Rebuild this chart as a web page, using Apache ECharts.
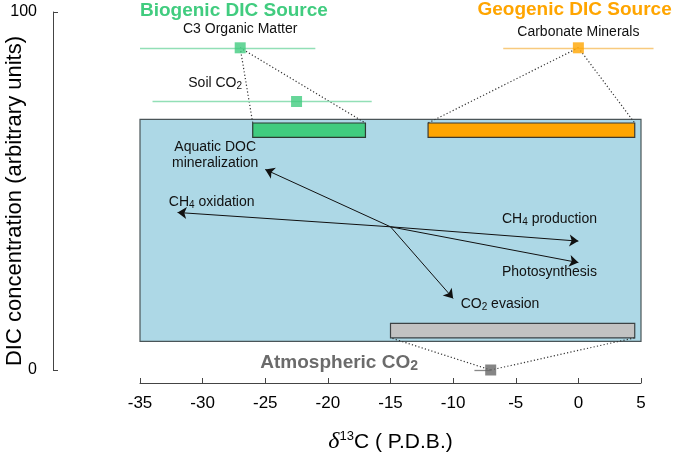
<!DOCTYPE html>
<html><head><meta charset="utf-8">
<script src="https://cdn.jsdelivr.net/npm/echarts@6/dist/echarts.min.js"></script>
<style>html,body{margin:0;padding:0;background:#fff}#c{width:675px;height:453px}</style>
</head><body><div id="c"></div>
<script>
// ---- axes ----
const xMin = -35, xMax = 5, xStep = 5;
const yMin = 0, yMax = 100, yStep = 100;

// ---- boxes: [xmin, xmax, ymin, ymax] ----
const poolBox = [-35, 5, 8, 70];
const biogenicBar = [-26, -17, 65, 69];
const geogenicBar = [-12, 4.5, 65, 69];
const atmosphericBar = [-15, 4.5, 9, 13];

// ---- sources: mean value, level, range ----
const sourceNames = ['C3 Organic Matter', 'Soil CO2', 'Carbonate Minerals', 'Atmospheric CO2'];
const sourceMeans = [-27, -22.5, 0, -7];
const sourceLevels = [90, 75, 90, 0];
const sourceRangeMin = [-35, -34, -6, -8.3];
const sourceRangeMax = [-21, -16.5, 6, -7];

// ---- processes (arrows from a common origin) ----
const arrowOrigin = [-15, 40];
const processNames = ['Aquatic DOC mineralization', 'CH4 oxidation', 'CH4 production', 'Photosynthesis', 'CO2 evasion'];
const processEndX = [-25, -32, 0, 0, -10];
const processEndY = [56, 44, 36, 30, 20];

// ---- annotation texts and their anchors (data coords) ----
const labelTexts = [
  'Biogenic DIC Source', 'C3 Organic Matter', 'Soil CO{sub|2}',
  'Geogenic DIC Source', 'Carbonate Minerals',
  'Aquatic DOC\nmineralization', 'CH{sub|4} oxidation', 'CH{sub|4} production',
  'Photosynthesis', 'CO{sub|2} evasion', 'Atmospheric CO{bsub|2}'
];
const labelX = [-27.5, -27.0, -29.0, -0.3, 0, -29.0, -32.7, -6.1, -6.1, -9.4, -19.1];
const labelY = [100.3, 95.3, 80.2, 100.5, 94.4, 60.0, 46.9, 42.2, 27.4, 18.4, 2.0];
</script>
<script>
const FONT = '"Liberation Sans", Arial, Helvetica, sans-serif';
const GREEN = '#41cc7f', GREEN_L = '#92dfb6', ORANGE = '#ffa500', ORANGE_L = '#f8ca7e', GRAYSQ = '#666666';

function rectSeries(box, fill, stroke, z) {
  return {
    type: 'custom', z: z, silent: true, clip: false,
    data: [box],
    encode: { x: [0, 1], y: [2, 3] },
    renderItem: function (p, api) {
      const a = api.coord([api.value(0), api.value(3)]);
      const b = api.coord([api.value(1), api.value(2)]);
      return { type: 'rect', shape: { x: a[0], y: a[1], width: b[0] - a[0], height: b[1] - a[1] },
        style: { fill: fill, stroke: stroke, lineWidth: 1.2 } };
    }
  };
}

const sqColors = [GREEN, GREEN, ORANGE, GRAYSQ];
const rangeColors = [GREEN_L, GREEN_L, ORANGE_L, '#888888'];

const rangeData = sourceNames.map((n, i) => ({
  coords: [[sourceRangeMin[i], sourceLevels[i]], [sourceRangeMax[i], sourceLevels[i]]],
  lineStyle: { color: rangeColors[i] }
}));
const squareData = sourceNames.map((n, i) => ({
  value: [sourceMeans[i], sourceLevels[i]], itemStyle: { color: sqColors[i] }
}));

const connData = [
  [[sourceMeans[0], sourceLevels[0]], [biogenicBar[0], biogenicBar[3]]],
  [[sourceMeans[0], sourceLevels[0]], [biogenicBar[1], biogenicBar[3]]],
  [[sourceMeans[2], sourceLevels[2]], [geogenicBar[0], geogenicBar[3]]],
  [[sourceMeans[2], sourceLevels[2]], [geogenicBar[1], geogenicBar[3]]],
  [[sourceMeans[3], sourceLevels[3]], [atmosphericBar[0], atmosphericBar[2]]],
  [[sourceMeans[3], sourceLevels[3]], [atmosphericBar[1], atmosphericBar[2]]]
].map(c => ({ coords: c }));

const arrowData = processNames.map((n, i) => ({ coords: [arrowOrigin, [processEndX[i], processEndY[i]]] }));

const labelStyles = [
  { c: GREEN, s: 19, w: 'bold', a: 'center' },
  { c: '#111', s: 14, w: 'normal', a: 'center' },
  { c: '#111', s: 14, w: 'normal', a: 'center' },
  { c: ORANGE, s: 19, w: 'bold', a: 'center' },
  { c: '#111', s: 14, w: 'normal', a: 'center' },
  { c: '#111', s: 14, w: 'normal', a: 'center' },
  { c: '#111', s: 14, w: 'normal', a: 'left' },
  { c: '#111', s: 14, w: 'normal', a: 'left' },
  { c: '#111', s: 14, w: 'normal', a: 'left' },
  { c: '#111', s: 14, w: 'normal', a: 'left' },
  { c: '#6b6b6b', s: 19, w: 'bold', a: 'center' }
];

const chart = echarts.init(document.getElementById('c'), null, { renderer: 'canvas' });
chart.setOption({
  animation: false,
  backgroundColor: '#fff',
  grid: { left: 140, right: 34, top: 12, bottom: 83, containLabel: false, outerBoundsMode: 'none' },
  xAxis: {
    type: 'value', min: xMin, max: xMax, interval: xStep, offset: 13,
    axisLine: { show: true, onZero: false, lineStyle: { color: '#444', width: 1 } },
    axisTick: { show: true, inside: true, length: 5, lineStyle: { color: '#444' } },
    splitLine: { show: false },
    axisLabel: { color: '#000', fontSize: 17, fontFamily: FONT, margin: 12 },
    name: '{d|δ}{sup|13}{n|C ( P.D.B.)}', nameLocation: 'middle', nameGap: 47, nameMoveOverlap: false,
    nameTextStyle: {
      rich: {
        d: { fontFamily: '"Liberation Serif", "DejaVu Serif", serif', fontSize: 24, color: '#000', fontStyle: 'italic' },
        sup: { fontFamily: FONT, fontSize: 13, color: '#000', verticalAlign: 'top' },
        n: { fontFamily: FONT, fontSize: 21, color: '#000' }
      }
    }
  },
  yAxis: {
    type: 'value', min: yMin, max: yMax, interval: yStep, offset: 87,
    axisLine: { show: true, onZero: false, lineStyle: { color: '#444', width: 1 } },
    axisTick: { show: true, inside: true, length: 5, lineStyle: { color: '#444' } },
    splitLine: { show: false },
    axisLabel: { color: '#000', fontSize: 16, fontFamily: FONT, margin: 16 },
    name: 'DIC concentration (arbitrary units)', nameLocation: 'middle', nameGap: 27, nameMoveOverlap: false,
    nameTextStyle: { color: '#000', fontSize: 22, fontFamily: FONT, padding: [0, 20, 0, 0] }
  },
  series: [
    rectSeries(poolBox, '#add8e6', '#4a5558', 1),
    rectSeries(biogenicBar, GREEN, '#2d3b33', 3),
    rectSeries(geogenicBar, ORANGE, '#3d3a30', 3),
    rectSeries(atmosphericBar, '#c2c2c2', '#3d4244', 3),
    {
      type: 'lines', coordinateSystem: 'cartesian2d', clip: false, z: 4, silent: true,
      data: connData, symbol: 'none',
      lineStyle: { color: '#333', width: 1.2, type: [1.2, 2.2], opacity: 1 }
    },
    {
      type: 'lines', coordinateSystem: 'cartesian2d', clip: false, z: 5, silent: true,
      data: rangeData, symbol: 'none', lineStyle: { width: 1.3, opacity: 1 }
    },
    {
      type: 'scatter', z: 6, silent: true, clip: false, symbol: 'rect', symbolSize: 11,
      data: squareData
    },
    {
      type: 'lines', coordinateSystem: 'cartesian2d', clip: false, z: 7, silent: true,
      data: arrowData, symbol: ['none', 'arrow'], symbolSize: [0, 9],
      lineStyle: { color: '#111', width: 1, opacity: 1 }
    },
    {
      type: 'custom', z: 10, silent: true, clip: false,
      data: labelX.map((x, i) => [x, labelY[i], i]),
      renderItem: function (p, api) {
        const i = api.value(2);
        const st = labelStyles[i];
        const pt = api.coord([api.value(0), api.value(1)]);
        return {
          type: 'text', x: pt[0], y: pt[1],
          style: {
            text: labelTexts[i], align: st.a, verticalAlign: 'middle',
            fill: st.c, fontSize: st.s, fontWeight: st.w, fontFamily: FONT, lineHeight: 16,
            rich: {
              sub: { fontSize: 10, fill: st.c, verticalAlign: 'bottom', fontFamily: FONT, lineHeight: 16 },
              bsub: { fontSize: 14, fontWeight: 'bold', fill: st.c, verticalAlign: 'bottom', fontFamily: FONT, lineHeight: 20 }
            }
          }
        };
      }
    }
  ]
});
</script>
</body></html>
